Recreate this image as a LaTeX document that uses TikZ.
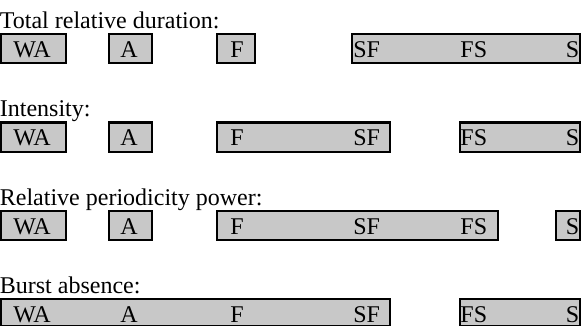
\documentclass[tikz,border=0pt]{standalone}
\usepackage{fontspec}
\setmainfont{Liberation Serif}
\definecolor{boxgray}{RGB}{200,200,200}
\begin{document}
\begin{tikzpicture}[x=0.5pt,y=-0.5pt,
  bar/.style={draw=black, fill=boxgray, line width=1pt},
  lbl/.style={inner sep=0pt, anchor=base west, font=\fontsize{12}{14}\selectfont},
  lblr/.style={inner sep=0pt, anchor=base east, font=\fontsize{12}{14}\selectfont},
  ttl/.style={inner sep=0pt, anchor=base west, font=\fontsize{12}{14}\selectfont}]
\useasboundingbox (0,0) rectangle (583,326);
% Row 1
\node[ttl] (t1) at (-0.5,28.5) {Total relative duration:};
\draw[bar] (1,34) rectangle (66,63);
\draw[bar] (109,34) rectangle (152,63);
\draw[bar] (217,34) rectangle (255,63);
\draw[bar] (352,34) rectangle (580,63);
\node[lbl] (r1wa) at (13,57.5) {WA};
\node[lbl] (r1a) at (120,57.5) {A};
\node[lbl] (r1f) at (230,57.5) {F};
\node[lbl] (r1sf) at (353,57.5) {SF};
\node[lbl] (r1fs) at (460,57.5) {FS};
\node[lblr] (r1s) at (579.5,57.5) {S};
% Row 2
\node[ttl] (t2) at (-0.5,117) {Intensity:};
\draw[bar] (1,122.5) rectangle (66,151.5);
\draw[bar] (109,122.5) rectangle (152,151.5);
\draw[bar] (217,122.5) rectangle (390,151.5);
\draw[bar] (460,122.5) rectangle (580,151.5);
\node[lbl] (r2wa) at (13,146) {WA};
\node[lbl] (r2a) at (120,146) {A};
\node[lbl] (r2f) at (230,146) {F};
\node[lbl] (r2sf) at (353,146) {SF};
\node[lbl] (r2fs) at (460,146) {FS};
\node[lblr] (r2s) at (579.5,146) {S};
% Row 3
\node[ttl] (t3) at (-0.5,205.5) {Relative periodicity power:};
\draw[bar] (1,211) rectangle (66,240);
\draw[bar] (109,211) rectangle (152,240);
\draw[bar] (217,211) rectangle (498,240);
\draw[bar] (556,211) rectangle (580,240);
\node[lbl] (r3wa) at (13,234.5) {WA};
\node[lbl] (r3a) at (120,234.5) {A};
\node[lbl] (r3f) at (230,234.5) {F};
\node[lbl] (r3sf) at (353,234.5) {SF};
\node[lbl] (r3fs) at (460,234.5) {FS};
\node[lblr] (r3s) at (579.5,234.5) {S};
% Row 4
\node[ttl] (t4) at (-0.5,293.5) {Burst absence:};
\draw[bar] (1,299) rectangle (390,326);
\draw[bar] (460,299) rectangle (580,326);
\node[lbl] (r4wa) at (13,322.5) {WA};
\node[lbl] (r4a) at (120,322.5) {A};
\node[lbl] (r4f) at (230,322.5) {F};
\node[lbl] (r4sf) at (353,322.5) {SF};
\node[lbl] (r4fs) at (460,322.5) {FS};
\node[lblr] (r4s) at (579.5,322.5) {S};
\end{tikzpicture}
\end{document}
